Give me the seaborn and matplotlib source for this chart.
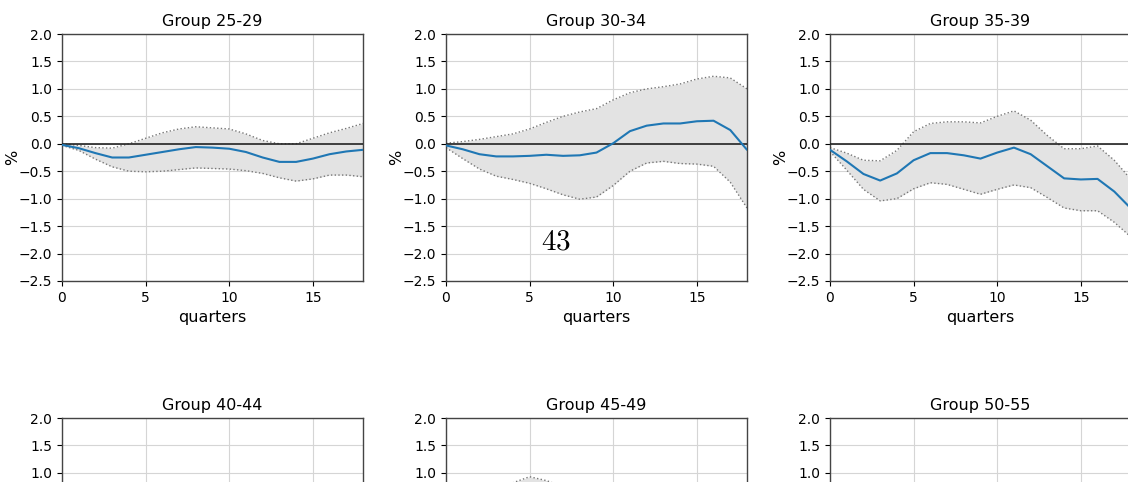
import numpy as np
import pandas as pd
import matplotlib
matplotlib.use("Agg")
import matplotlib.pyplot as plt
import seaborn as sns

quarters = list(range(19))

groups = ["Group 25-29", "Group 30-34", "Group 35-39", "Group 40-44", "Group 45-49", "Group 50-55"]

mean_25_29 = [-0.02, -0.08, -0.17, -0.25, -0.25, -0.20, -0.15, -0.10, -0.06, -0.07, -0.09, -0.15, -0.25, -0.33, -0.33, -0.27, -0.19, -0.14, -0.11]
upper_25_29 = [0.00, -0.03, -0.07, -0.08, 0.00, 0.10, 0.20, 0.27, 0.31, 0.29, 0.27, 0.18, 0.06, 0.00, 0.00, 0.10, 0.20, 0.28, 0.37]
lower_25_29 = [-0.03, -0.12, -0.28, -0.42, -0.50, -0.51, -0.50, -0.47, -0.44, -0.45, -0.46, -0.49, -0.54, -0.62, -0.68, -0.64, -0.57, -0.57, -0.60]

mean_30_34 = [-0.03, -0.10, -0.19, -0.23, -0.23, -0.22, -0.20, -0.22, -0.21, -0.16, 0.01, 0.23, 0.33, 0.37, 0.37, 0.41, 0.42, 0.25, -0.11]
upper_30_34 = [0.01, 0.04, 0.08, 0.13, 0.18, 0.27, 0.39, 0.50, 0.58, 0.64, 0.80, 0.93, 1.00, 1.04, 1.09, 1.18, 1.23, 1.20, 1.00]
lower_30_34 = [-0.07, -0.27, -0.46, -0.59, -0.65, -0.72, -0.82, -0.93, -1.01, -0.97, -0.76, -0.50, -0.35, -0.32, -0.36, -0.37, -0.41, -0.70, -1.17]

mean_35_39 = [-0.11, -0.32, -0.55, -0.67, -0.54, -0.30, -0.17, -0.17, -0.21, -0.27, -0.16, -0.07, -0.19, -0.41, -0.63, -0.65, -0.64, -0.87, -1.18]
upper_35_39 = [-0.07, -0.17, -0.30, -0.31, -0.12, 0.22, 0.37, 0.40, 0.40, 0.38, 0.50, 0.60, 0.43, 0.15, -0.09, -0.09, -0.04, -0.30, -0.65]
lower_35_39 = [-0.14, -0.48, -0.83, -1.04, -1.00, -0.82, -0.71, -0.74, -0.83, -0.92, -0.83, -0.75, -0.80, -0.98, -1.17, -1.22, -1.22, -1.43, -1.70]

mean_40_44 = [-0.05, -0.10, -0.15, -0.18, -0.20, -0.18, -0.15, -0.12, -0.10, -0.10, -0.12, -0.15, -0.18, -0.20, -0.22, -0.22, -0.20, -0.18, -0.15]
upper_40_44 = [0.00, 0.05, 0.10, 0.15, 0.20, 0.25, 0.28, 0.30, 0.30, 0.30, 0.28, 0.25, 0.22, 0.20, 0.20, 0.22, 0.25, 0.28, 0.30]
lower_40_44 = [-0.10, -0.25, -0.40, -0.50, -0.60, -0.60, -0.58, -0.55, -0.52, -0.50, -0.52, -0.55, -0.58, -0.62, -0.65, -0.66, -0.65, -0.64, -0.62]

mean_45_49 = [0.00, 0.05, 0.12, 0.20, 0.28, 0.33, 0.30, 0.25, 0.20, 0.15, 0.10, 0.05, 0.00, -0.05, -0.08, -0.10, -0.12, -0.14, -0.15]
upper_45_49 = [0.05, 0.20, 0.40, 0.60, 0.82, 0.93, 0.86, 0.75, 0.65, 0.55, 0.48, 0.42, 0.36, 0.30, 0.26, 0.24, 0.22, 0.20, 0.20]
lower_45_49 = [-0.05, -0.10, -0.15, -0.20, -0.25, -0.27, -0.27, -0.27, -0.28, -0.30, -0.32, -0.35, -0.38, -0.42, -0.45, -0.48, -0.50, -0.52, -0.55]

mean_50_55 = [-0.02, -0.05, -0.08, -0.10, -0.12, -0.14, -0.15, -0.15, -0.14, -0.13, -0.12, -0.12, -0.13, -0.14, -0.15, -0.16, -0.17, -0.18, -0.19]
upper_50_55 = [0.02, 0.08, 0.15, 0.20, 0.25, 0.28, 0.30, 0.32, 0.33, 0.34, 0.35, 0.35, 0.35, 0.35, 0.35, 0.35, 0.35, 0.35, 0.35]
lower_50_55 = [-0.06, -0.18, -0.30, -0.40, -0.48, -0.55, -0.60, -0.62, -0.62, -0.62, -0.62, -0.63, -0.65, -0.67, -0.70, -0.72, -0.74, -0.76, -0.78]

means = [mean_25_29, mean_30_34, mean_35_39, mean_40_44, mean_45_49, mean_50_55]
uppers = [upper_25_29, upper_30_34, upper_35_39, upper_40_44, upper_45_49, upper_50_55]
lowers = [lower_25_29, lower_30_34, lower_35_39, lower_40_44, lower_45_49, lower_50_55]

y_ticks = [2.0, 1.5, 1.0, 0.5, 0.0, -0.5, -1.0, -1.5, -2.0, -2.5]
x_ticks = [0, 5, 10, 15]
page_number = "43"

sns.set_style("white")
plt.rcParams["font.family"] = ["DejaVu Sans"]
plt.rcParams["text.color"] = "black"
plt.rcParams["axes.labelcolor"] = "black"
plt.rcParams["xtick.color"] = "black"
plt.rcParams["ytick.color"] = "black"

W, H = 1128, 482
fig = plt.figure(figsize=(W / 100, H / 100), dpi=100)

lefts = [62, 446, 830]
ax_w = 301
ax_h = 247
tops = [34, 418]

for i, g in enumerate(groups):
    r, c = divmod(i, 3)
    left = lefts[c] / W
    bottom = (H - tops[r] - ax_h) / H
    ax = fig.add_axes([left, bottom, ax_w / W, ax_h / H])
    df = pd.DataFrame({"quarters": quarters, "mean": means[i], "upper": uppers[i], "lower": lowers[i]})
    ax.fill_between(df["quarters"], df["lower"], df["upper"], color="#e3e3e3", zorder=1, linewidth=0)
    sns.lineplot(data=df, x="quarters", y="upper", ax=ax, color="#777777", linestyle=":", linewidth=1.0, zorder=2)
    sns.lineplot(data=df, x="quarters", y="lower", ax=ax, color="#777777", linestyle=":", linewidth=1.0, zorder=2)
    sns.lineplot(data=df, x="quarters", y="mean", ax=ax, color="#1f77b4", linewidth=1.5, zorder=4)
    ax.axhline(0, color="#222222", linewidth=1.2, zorder=3)
    ax.set_xlim(0, 18)
    ax.set_ylim(-2.5, 2.0)
    ax.set_yticks(y_ticks)
    ax.set_xticks(x_ticks)
    ax.grid(True, color="#d5d5d5", linewidth=0.8, zorder=0)
    ax.set_axisbelow(True)
    ax.tick_params(axis="both", which="both", length=3.5, width=0.8, color="black", labelcolor="black",
                   labelsize=10, direction="out", bottom=True, left=True)
    for s in ax.spines.values():
        s.set_color("#444444")
        s.set_linewidth(1.0)
    ax.set_title(g, fontsize=11.5, pad=6, color="black")
    ax.set_xlabel("quarters", fontsize=11.5)
    ax.set_ylabel("%", fontsize=11.5, labelpad=-1)

fig.text(556 / W, 1 - 242 / H, "$" + page_number + "$", fontsize=21, ha="center", va="center", math_fontfamily="cm")

fig.savefig("out.png", dpi=100)
